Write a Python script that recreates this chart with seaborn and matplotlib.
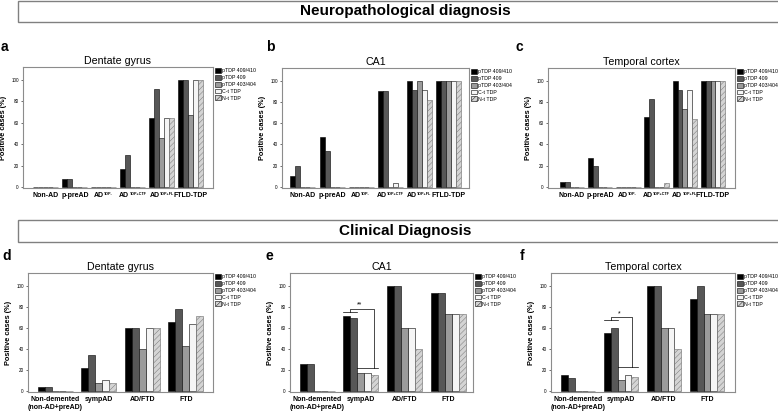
import matplotlib
matplotlib.use('Agg')
import matplotlib.pyplot as plt
import matplotlib.patches as mpatches
import pandas as pd
import seaborn as sns

series = ['pTDP 409/410', 'pTDP 409', 'pTDP 403/404', 'C-t TDP', 'N-t TDP']
colors = ['#000000', '#575757', '#9b9b9b', '#f5f5f5', '#d4d4d4']

neuro_groups = ['Non-AD', 'p-preAD', 'AD^TDP-', 'AD^TDP+CTF', 'AD^TDP+FL', 'FTLD-TDP']
clin_groups = ['Non-demented\n(non-AD+preAD)', 'sympAD', 'AD/FTD', 'FTD']

# one row per series, one value per group (% positive cases)
a_dentate = [
    [0, 7, 0, 17, 64, 100],
    [0, 7, 0, 30, 91, 100],
    [0, 0, 0, 0, 46, 67],
    [0, 0, 0, 0, 64, 100],
    [0, 0, 0, 0, 64, 100],
]
b_ca1 = [
    [10, 47, 0, 90, 100, 100],
    [20, 34, 0, 90, 91, 100],
    [0, 0, 0, 0, 100, 100],
    [0, 0, 0, 3.5, 91, 100],
    [0, 0, 0, 0, 82, 100],
]
c_temporal = [
    [5, 27, 0, 66, 100, 100],
    [5, 20, 0, 83, 91, 100],
    [0, 0, 0, 0, 73, 100],
    [0, 0, 0, 0, 91, 100],
    [0, 0, 0, 4, 64, 100],
]
d_dentate = [
    [3.5, 22, 60, 65],
    [3.5, 34, 60, 78],
    [0, 7.5, 40, 43],
    [0, 10, 60, 64],
    [0, 7.5, 60, 71],
]
e_ca1 = [
    [26, 71, 100, 93],
    [26, 69, 100, 93],
    [0, 17, 60, 73],
    [0, 17, 60, 73],
    [0, 15, 40, 73],
]
f_temporal = [
    [15, 55, 100, 87],
    [12.5, 60, 100, 100],
    [0, 10, 60, 73],
    [0, 15.5, 60, 73],
    [0, 13, 40, 73],
]

W, H = 778, 411

plt.rcParams['font.family'] = ['Liberation Sans', 'DejaVu Sans']
plt.rcParams['hatch.linewidth'] = 0.3

fig = plt.figure(figsize=(W / 100, H / 100), dpi=100)


def px_axes(x0, y0, x1, y1):
    return fig.add_axes([x0 / W, 1 - y1 / H, (x1 - x0) / W, (y1 - y0) / H])


def header(text, y0, y1):
    fig.patches.append(mpatches.Rectangle((18 / W, 1 - y1 / H), (W - 17) / W, (y1 - y0) / H,
                                          transform=fig.transFigure, fill=False,
                                          edgecolor='#808080', linewidth=1.0))
    fig.text(405 / W, 1 - (y0 + y1) / 2 / H, text, ha='center', va='center',
             fontsize=11, fontweight='bold')


def group_labels(ax, groups):
    # labels like AD^TDP- get a small superscript drawn by hand
    ax.set_xticks(range(len(groups)))
    ax.set_xticklabels([g if '^' not in g else '' for g in groups], fontsize=5, fontweight='bold')
    tr = ax.get_xaxis_transform()
    for i, g in enumerate(groups):
        if '^' not in g:
            continue
        base, sup = g.split('^')
        base_w = 0.7 * 5 * len(base)
        sup_w = 0.6 * 2.7 * len(sup)
        dx = (base_w - sup_w) / 2 - 0.5
        ax.annotate(base, (i, 0), xycoords=tr, xytext=(dx, -3), textcoords='offset points',
                    ha='right', va='top', fontsize=5, fontweight='bold')
        ax.annotate(sup, (i, 0), xycoords=tr, xytext=(dx + 0.2, -2.6), textcoords='offset points',
                    ha='left', va='top', fontsize=2.7, fontweight='bold')


def bar_panel(box, groups, values, title, letter, letter_xy, xlim, width):
    ax = px_axes(*box)
    df = pd.DataFrame([(g, s, v) for s, vals in zip(series, values) for g, v in zip(groups, vals)],
                      columns=['group', 'series', 'value'])
    sns.barplot(data=df, x='group', y='value', hue='series', order=groups, hue_order=series,
                palette=dict(zip(series, colors)), saturation=1, edgecolor='black',
                linewidth=0.4, width=width, errorbar=None, legend=False, ax=ax)
    for bar in ax.containers[4]:
        bar.set_hatch('//////')
        bar.set_edgecolor('#6a6a6a')
    ax.set_xlim(*xlim)
    ax.set_ylim(-1, 112)
    ax.set_yticks([0, 20, 40, 60, 80, 100])
    ax.tick_params(axis='y', labelsize=3.3, length=1.5, width=0.4, pad=1.5)
    ax.tick_params(axis='x', length=0, pad=3)
    group_labels(ax, groups)
    ax.set_xlabel('')
    ax.set_ylabel('Positive cases (%)', fontsize=5.3, fontweight='bold', labelpad=3)
    ax.set_title(title, fontsize=7.7, pad=2.5)
    for sp in ax.spines.values():
        sp.set_color('#8c8c8c')
        sp.set_linewidth(0.8)
    handles = [mpatches.Patch(facecolor=c, edgecolor='black', linewidth=0.4,
                              hatch='//////' if i == 4 else None)
               for i, c in enumerate(colors)]
    ax.legend(handles, series, loc='upper left', bbox_to_anchor=(1.005, 1.0), frameon=False,
              fontsize=3.8, handlelength=1.05, handleheight=1.05, handletextpad=0.2,
              borderaxespad=0.2, borderpad=0, labelspacing=0.3)
    fig.text(letter_xy[0] / W, 1 - letter_xy[1] / H, letter, fontsize=10, fontweight='bold',
             ha='left', va='center')
    return ax


def bracket(ax, width, left_y, top_y, low_y, right_x, mark):
    step = width / 5
    x0 = 1 - width / 2
    ax.plot([x0, x0 + 2 * step], [left_y, left_y], color='black', lw=0.5)
    ax.plot([x0 + 2 * step, x0 + 5 * step], [low_y, low_y], color='black', lw=0.5)
    ax.plot([x0 + step, x0 + step, right_x, right_x], [left_y, top_y, top_y, low_y],
            color='black', lw=0.5)
    ax.text((x0 + step + right_x) / 2 - 0.05, top_y, mark, fontsize=5, ha='center', va='bottom')


header('Neuropathological diagnosis', 1, 22)
header('Clinical Diagnosis', 220, 242)

bar_panel((23, 67, 213, 188), neuro_groups, a_dentate, 'Dentate gyrus', 'a', (1, 47), (-0.79, 5.76), 0.86)
bar_panel((282, 68, 469, 188), neuro_groups, b_ca1, 'CA1', 'b', (266, 47), (-0.72, 5.7), 0.86)
bar_panel((548, 68, 735, 188), neuro_groups, c_temporal, 'Temporal cortex', 'c', (515, 47), (-0.85, 5.78), 0.86)

bar_panel((28, 273, 213, 392), clin_groups, d_dentate, 'Dentate gyrus', 'd', (2, 256), (-0.62, 3.62), 0.8)
ax_e = bar_panel((290, 273, 473, 392), clin_groups, e_ca1, 'CA1', 'e', (265, 256), (-0.62, 3.57), 0.8)
ax_f = bar_panel((551, 273, 735, 392), clin_groups, f_temporal, 'Temporal cortex', 'f', (520, 256), (-0.63, 3.65), 0.8)

bracket(ax_e, 0.8, 74.5, 78, 22, 1.3, '**')
bracket(ax_f, 0.8, 67, 70, 23, 1.25, '*')

fig.savefig('out.png', dpi=100)
